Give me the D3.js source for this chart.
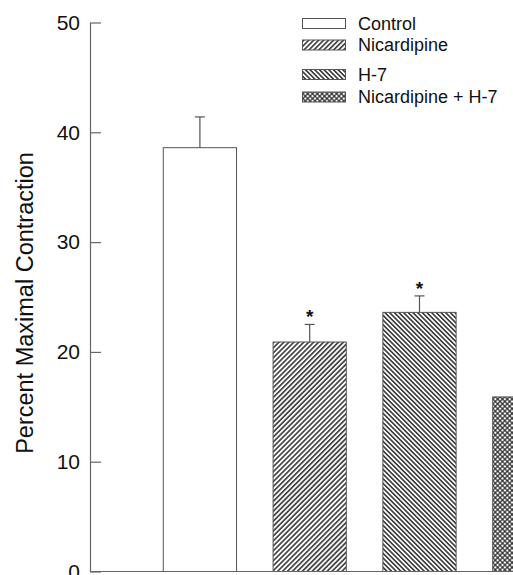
<!DOCTYPE html>
<html>
<head>
<meta charset="utf-8">
<script src="https://cdn.jsdelivr.net/npm/d3@7"></script>
<style>
  html, body { margin: 0; padding: 0; background: #fff; }
  svg { display: block; font-family: Arial, "Liberation Sans", Helvetica, sans-serif; }
</style>
</head>
<body>
<svg id="chart" width="513" height="575"></svg>
<script>
// Treatment groups, mean response and SEM
const categories = ["Control", "Nicardipine", "H-7", "Nicardipine + H-7"];
const means = [38.6, 20.9, 23.6, 15.9];
const sems = [2.8, 1.6, 1.5, null];
const significant = [false, true, true, false];
const yTicks = [0, 10, 20, 30, 40, 50];
const patterns = ["none", "diagUp", "diagDown", "cross"];

const svg = d3.select("#chart");
const W = 513, H = 575;

const y = d3.scaleLinear().domain([0, 50]).range([571.5, 22.5]);
const x = d3.scaleBand()
  .domain(categories)
  .range([145, 584.2])
  .paddingInner(0.333)
  .paddingOuter(0.1665);

// Hatch fills
const defs = svg.append("defs");
function stripe(id, angle, spacing, stroke) {
  const p = defs.append("pattern")
    .attr("id", id)
    .attr("patternUnits", "userSpaceOnUse")
    .attr("width", spacing).attr("height", spacing)
    .attr("patternTransform", `rotate(${angle})`);
  p.append("rect").attr("width", spacing).attr("height", spacing).attr("fill", "#fff");
  p.append("line")
    .attr("x1", spacing / 2).attr("x2", spacing / 2)
    .attr("y1", 0).attr("y2", spacing)
    .attr("stroke", "#1a1a1a").attr("stroke-width", stroke);
}
stripe("diagUp", 45, 3.5, 1.4);
stripe("diagDown", -45, 3.3, 1.4);
const cp = defs.append("pattern")
  .attr("id", "cross")
  .attr("patternUnits", "userSpaceOnUse")
  .attr("width", 3.4).attr("height", 3.4)
  .attr("patternTransform", "rotate(45)");
cp.append("rect").attr("width", 3.4).attr("height", 3.4).attr("fill", "#fff");
cp.append("line").attr("x1", 1.7).attr("x2", 1.7).attr("y1", 0).attr("y2", 3.4)
  .attr("stroke", "#1a1a1a").attr("stroke-width", 1.1);
cp.append("line").attr("y1", 1.7).attr("y2", 1.7).attr("x1", 0).attr("x2", 3.4)
  .attr("stroke", "#1a1a1a").attr("stroke-width", 1.1);

const fillOf = i => patterns[i] === "none" ? "#fff" : `url(#${patterns[i]})`;

// Bars
svg.append("g").selectAll("rect")
  .data(categories)
  .join("rect")
  .attr("x", d => x(d))
  .attr("y", (d, i) => y(means[i]))
  .attr("width", x.bandwidth())
  .attr("height", (d, i) => y(0) - y(means[i]))
  .attr("fill", (d, i) => fillOf(i))
  .attr("stroke", "#555")
  .attr("stroke-width", 1);

// Error bars (upper half) and significance marks
const eb = svg.append("g").attr("stroke", "#555").attr("stroke-width", 1.2);
categories.forEach((c, i) => {
  if (sems[i] == null) return;
  const cx = x(c) + x.bandwidth() / 2;
  eb.append("line").attr("x1", cx).attr("x2", cx)
    .attr("y1", y(means[i])).attr("y2", y(means[i] + sems[i]));
  eb.append("line").attr("x1", cx - 5).attr("x2", cx + 5)
    .attr("y1", y(means[i] + sems[i])).attr("y2", y(means[i] + sems[i]));
  if (significant[i]) {
    svg.append("text")
      .attr("x", cx).attr("y", y(means[i] + sems[i]) - 1)
      .attr("text-anchor", "middle")
      .attr("font-size", 19).attr("font-weight", "bold")
      .attr("fill", "#111")
      .text("*");
  }
});

// Y axis with inward ticks
const yAxis = svg.append("g")
  .attr("transform", "translate(90,0)")
  .call(d3.axisRight(y).tickValues(yTicks).tickSize(11).tickSizeOuter(0).tickFormat(d3.format("d")));
yAxis.select(".domain").attr("stroke", "#666").attr("stroke-width", 1.2);
yAxis.selectAll(".tick line").attr("stroke", "#666").attr("stroke-width", 1.2);
yAxis.selectAll(".tick text")
  .attr("x", -10)
  .attr("text-anchor", "end")
  .attr("font-size", 21)
  .attr("fill", "#111")
  .attr("font-family", "Arial, 'Liberation Sans', sans-serif");

// X baseline
svg.append("line")
  .attr("x1", 90).attr("x2", W)
  .attr("y1", y(0)).attr("y2", y(0))
  .attr("stroke", "#666").attr("stroke-width", 1.2);

// Y axis title
svg.append("text")
  .attr("transform", `translate(33,${(y(0) + y(50)) / 2 + 6}) rotate(-90)`)
  .attr("text-anchor", "middle")
  .attr("font-size", 23.5)
  .attr("fill", "#111")
  .text("Percent Maximal Contraction");

// Legend
const legendY = [23.5, 45, 74.5, 97];
const lg = svg.append("g");
categories.forEach((c, i) => {
  lg.append("rect")
    .attr("x", 302.5).attr("y", legendY[i] - 5)
    .attr("width", 43).attr("height", 10)
    .attr("fill", fillOf(i))
    .attr("stroke", "#555").attr("stroke-width", 1);
  lg.append("text")
    .attr("x", 358).attr("y", legendY[i] + 6)
    .attr("font-size", 18)
    .attr("fill", "#111")
    .text(c);
});
</script>
</body>
</html>
